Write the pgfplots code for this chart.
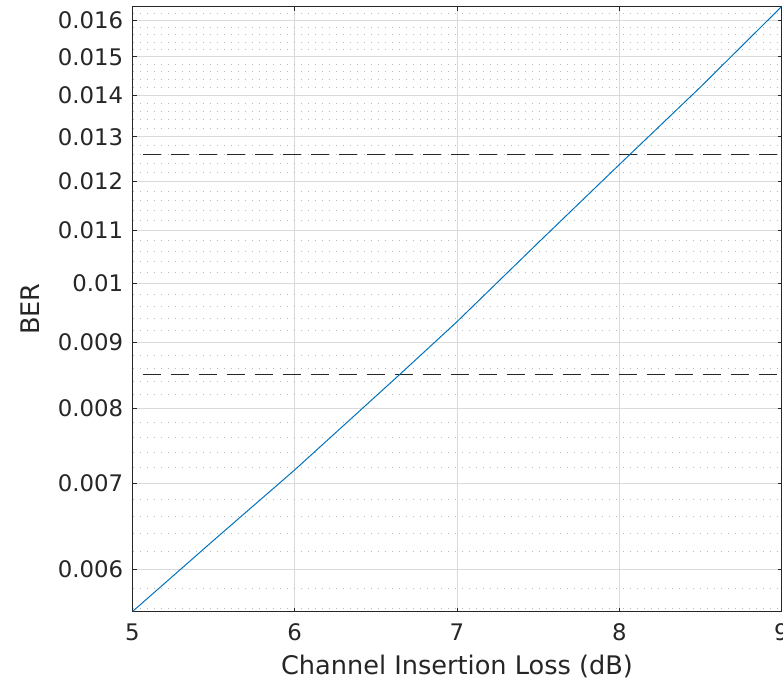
\documentclass[border=0pt]{standalone}
\usepackage{fontspec}
\setmainfont{DejaVu Sans}
\usepackage{pgfplots}
\pgfplotsset{compat=1.18}
\definecolor{axgray}{RGB}{38,38,38}
\definecolor{mblue}{rgb}{0,0.447,0.741}
\definecolor{gridmaj}{RGB}{218,218,218}
\definecolor{gridmin}{RGB}{185,185,185}
\begin{document}
\begin{tikzpicture}
\useasboundingbox (0,0) rectangle (391.5pt,343pt);
\begin{axis}[
  at={(66.25pt,37.25pt)}, anchor=south west,
  scale only axis, width=324.5pt, height=302.5pt,
  ymode=log, xmin=5, xmax=9, ymin=0.005566, ymax=0.01641,
  xtick={5,6,7,8,9},
  ytick={0.006,0.007,0.008,0.009,0.01,0.011,0.012,0.013,0.014,0.015,0.016},
  yticklabels={0.006,0.007,0.008,0.009,0.01,0.011,0.012,0.013,0.014,0.015,0.016},
  minor ytick={0.0056,0.0058,0.0062,0.0064,0.0066,0.0068,0.0072,0.0074,0.0076,0.0078,0.0082,0.0084,0.0086,0.0088,0.0092,0.0094,0.0096,0.0098,0.0102,0.0104,0.0106,0.0108,0.0112,0.0114,0.0116,0.0118,0.0122,0.0124,0.0126,0.0128,0.0132,0.0134,0.0136,0.0138,0.0142,0.0144,0.0146,0.0148,0.0152,0.0154,0.0156,0.0158,0.0162},
  grid=both,
  major grid style={gridmaj, line width=0.5pt},
  minor grid style={gridmin, line width=0.5pt, dash pattern=on 0.5pt off 3pt},
  axis line style={axgray, line width=0.5pt},
  tick style={axgray, line width=0.5pt},
  major tick length=2pt, minor tick length=0pt,
  tick align=inside,
  /pgf/number format/assume math mode=true,
  ticklabel style={font=\fontsize{11.4}{13}\selectfont, text=axgray},
  xticklabel style={yshift=-2.7pt},
  yticklabel style={xshift=-1.2pt},
  xlabel={Channel Insertion Loss (dB)},
  ylabel={BER},
  label style={font=\fontsize{12.8}{15}\selectfont, text=axgray},
  xlabel style={at={(axis description cs:0.5,-0.091)}, anchor=center},
  ylabel style={at={(axis description cs:-0.157,0.5)}, anchor=center},
]
\addplot[black!85, line width=0.5pt, dash pattern=on 9pt off 5pt, dash phase=9pt] coordinates {(5,0.0126) (9,0.0126)};
\addplot[black!85, line width=0.5pt, dash pattern=on 9pt off 5pt, dash phase=9pt] coordinates {(5,0.0085) (9,0.0085)};
\addplot[mblue, line width=0.5pt] coordinates {
(5,0.005566) (5.5,0.006322) (6,0.00717) (6.65,0.008509) (7,0.009343) (7.5,0.010758) (8,0.01237) (8.5,0.014208) (9,0.016406)};
\end{axis}
\end{tikzpicture}
\end{document}
